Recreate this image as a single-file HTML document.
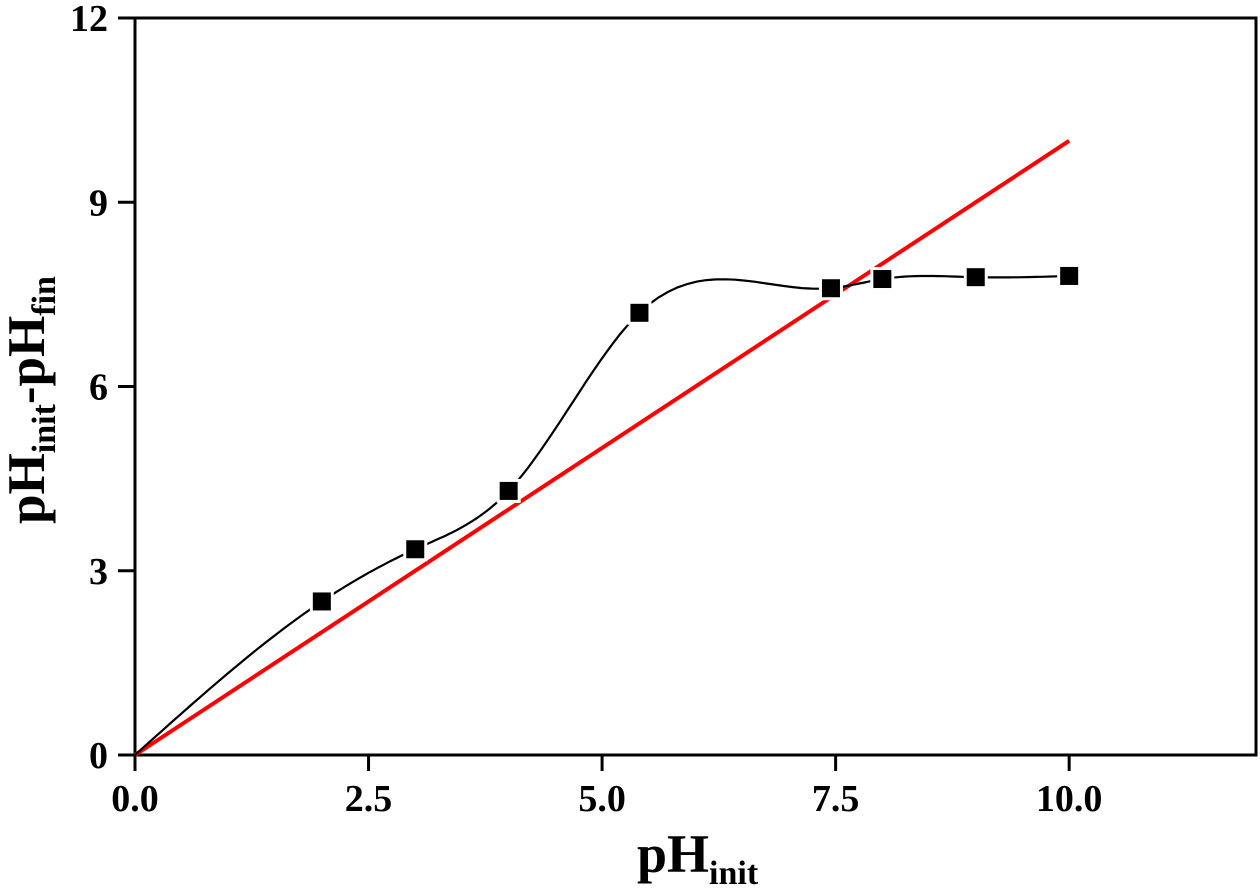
<!DOCTYPE html>
<html><head><meta charset="utf-8"><style>
html,body{margin:0;padding:0;background:#fff;}
svg{display:block;font-family:"Liberation Serif",serif;font-weight:bold;}
</style></head><body>
<svg id="chart" width="1260" height="895" viewBox="0 0 1260 895" xmlns="http://www.w3.org/2000/svg">
<rect x="135" y="18" width="1121" height="737" fill="none" stroke="#000" stroke-width="3"/>
<g id="xticks"></g><g id="yticks"></g>
<path id="ref-line" fill="none" stroke="#f00" stroke-width="4"/>
<path id="fit-curve" fill="none" stroke="#000" stroke-width="2.2"/>
<g id="markers"></g>
<text x="637" y="872" font-size="54">pH<tspan font-size="34" dy="12">init</tspan></text>
<text transform="translate(44,400) rotate(-90)" text-anchor="middle" font-size="53">pH<tspan font-size="34" dy="11">init</tspan><tspan dy="-11">-pH</tspan><tspan font-size="34" dy="11">fin</tspan></text>
</svg>
<script>
const xVals=[2,3,4,5.4,7.45,8,9,10];
const yVals=[2.5,3.35,4.3,7.2,7.6,7.75,7.78,7.8];
const xTicks=[0,2.5,5,7.5,10];
const xTickLabels=["0.0","2.5","5.0","7.5","10.0"];
const yTicks=[0,3,6,9,12];
const yTickLabels=["0","3","6","9","12"];
const refLine=[[0,0],[10,10]];
const X=v=>135+v*(1121/12);
const Y=v=>755-v*(737/12);
const NS="http://www.w3.org/2000/svg";
const xt=document.getElementById('xticks'),yt=document.getElementById('yticks');
xTicks.forEach((t,i)=>{
 const l=document.createElementNS(NS,'line');
 
 
 l.setAttribute('x1',X(t));l.setAttribute('x2',X(t));l.setAttribute('y1',755);l.setAttribute('y2',771);
 l.setAttribute('stroke','#000');l.setAttribute('stroke-width','3');xt.appendChild(l);
 const s=document.createElementNS(NS,'text');
 
 
 s.setAttribute('x',X(t));s.setAttribute('y',811);s.setAttribute('text-anchor','middle');s.setAttribute('font-size','38');
 s.textContent=xTickLabels[i];xt.appendChild(s);
});
yTicks.forEach((t,i)=>{
 const l=document.createElementNS(NS,'line');
 
 
 l.setAttribute('x1',118);l.setAttribute('x2',135);l.setAttribute('y1',Y(t));l.setAttribute('y2',Y(t));
 l.setAttribute('stroke','#000');l.setAttribute('stroke-width','3');yt.appendChild(l);
 const s=document.createElementNS(NS,'text');
 
 
 s.setAttribute('x',108);s.setAttribute('y',Y(t)+13);s.setAttribute('text-anchor','end');s.setAttribute('font-size','38');
 s.textContent=yTickLabels[i];yt.appendChild(s);
});
document.getElementById('ref-line').setAttribute('d','M'+X(refLine[0][0])+','+Y(refLine[0][1])+'L'+X(refLine[1][0])+','+Y(refLine[1][1]));
const xs=[0].concat(xVals),ys=[0].concat(yVals),n=xs.length;
const h=[],al=[0],l=[1],mu=[0],z=[0],c=new Array(n).fill(0),b=[],d=[];
for(let i=0;i<n-1;i++)h.push(xs[i+1]-xs[i]);
for(let i=1;i<n-1;i++)al.push(3/h[i]*(ys[i+1]-ys[i])-3/h[i-1]*(ys[i]-ys[i-1]));
for(let i=1;i<n-1;i++){l[i]=2*(xs[i+1]-xs[i-1])-h[i-1]*mu[i-1];mu[i]=h[i]/l[i];z[i]=(al[i]-h[i-1]*z[i-1])/l[i];}
l[n-1]=1;z[n-1]=0;
for(let j=n-2;j>=0;j--){c[j]=z[j]-mu[j]*c[j+1];b[j]=(ys[j+1]-ys[j])/h[j]-h[j]*(c[j+1]+2*c[j])/3;d[j]=(c[j+1]-c[j])/(3*h[j]);}
let p='';
for(let j=0;j<n-1;j++){for(let k=0;k<=20;k++){const t=h[j]*k/20;const v=ys[j]+b[j]*t+c[j]*t*t+d[j]*t*t*t;p+=(p?'L':'M')+X(xs[j]+t).toFixed(1)+','+Y(v).toFixed(1);}}
document.getElementById('fit-curve').setAttribute('d',p);
const mg=document.getElementById('markers');
xVals.forEach((x,i)=>{
 const r=document.createElementNS(NS,'rect');
 
 
 r.setAttribute('x',X(x)-9);r.setAttribute('y',Y(yVals[i])-9);r.setAttribute('width',18);r.setAttribute('height',18);
 r.setAttribute('fill','#000');r.setAttribute('stroke','#fff');r.setAttribute('stroke-width','6');r.setAttribute('paint-order','stroke');
 mg.appendChild(r);
});
</script>
</body></html>
